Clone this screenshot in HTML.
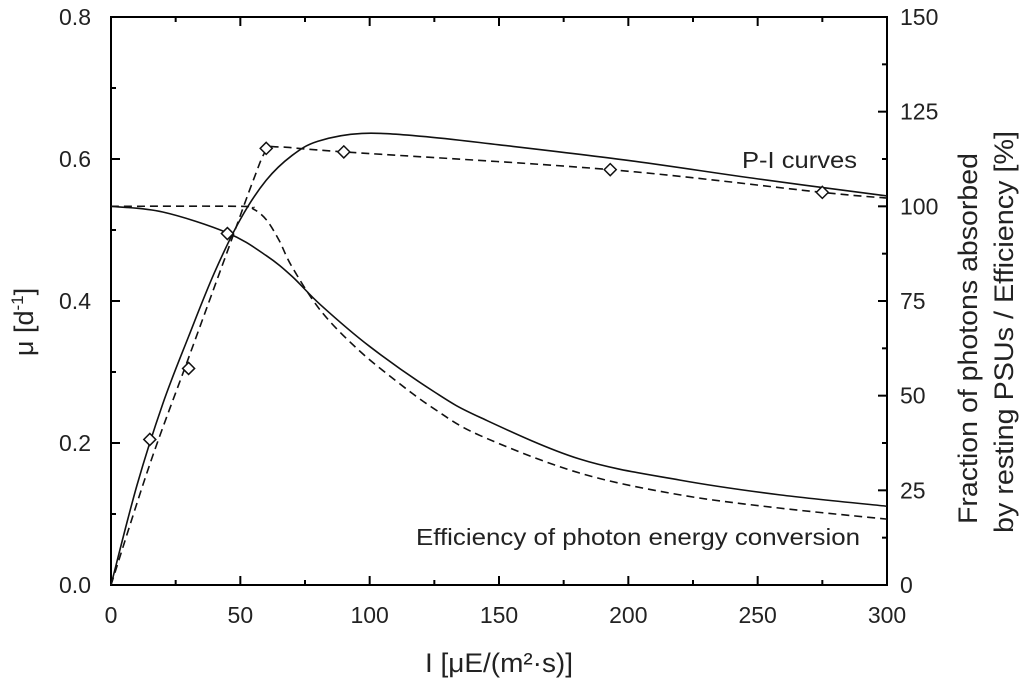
<!DOCTYPE html>
<html><head><meta charset="utf-8"><style>
html,body{margin:0;padding:0;background:#fff;}
svg{display:block;font-family:"Liberation Sans",sans-serif;}
</style></head><body>
<svg id="chart" width="1024" height="683" viewBox="0 0 1024 683" xmlns="http://www.w3.org/2000/svg"></svg>
<script>
const xTicks=[0,50,100,150,200,250,300];
const yLeftTicks=[0.0,0.2,0.4,0.6,0.8];
const yRightTicks=[0,25,50,75,100,125,150];
const piSolidI=[0,10,20,30,40,50,60,70,80,97,120,150,200,250,300];
const piSolidMu=[0,0.14,0.255,0.35,0.44,0.515,0.57,0.605,0.625,0.636,0.632,0.62,0.598,0.572,0.548];
const piDashI=[0,15,30,45,55,60,65,90,193,275,300];
const piDashMu=[0,0.17,0.32,0.47,0.57,0.612,0.617,0.61,0.585,0.553,0.545];
const effSolidI=[0,20,45,60,70,81,100,125,142.6,181,220,258.6,300];
const effSolidPct=[100,98.5,93,87,81.5,74,63,51,44.3,33.3,27.7,23.8,20.8];
const effDashI=[0,50,55,60,65,70,81,95,110,125,142.6,181,220,258.6,300];
const effDashPct=[100,100,99.3,96.5,91,84,72.5,62.5,54,46.5,39.5,29.6,23.8,20.3,17.4];
const ptsI=[15,30,45,60,90,193,275];
const ptsMu=[0.205,0.305,0.495,0.615,0.61,0.585,0.553];

const L=111,R=887,T=17,B=585;
const sx=v=>L+(v/300)*(R-L);
const syL=v=>B-(v/0.8)*(B-T);
const syR=v=>B-(v/150)*(B-T);
const NS="http://www.w3.org/2000/svg";
const svg=document.getElementById('chart');
function mk(tag,attrs,parent){const e=document.createElementNS(NS,tag);for(const k in attrs)e.setAttribute(k,attrs[k]);(parent||svg).appendChild(e);return e;}
function smooth(xs,ys){
  const p=xs.map((x,i)=>[x,ys[i]]);let d=`M${p[0][0]},${p[0][1]}`;
  for(let i=0;i<p.length-1;i++){
    const p0=p[Math.max(0,i-1)],p1=p[i],p2=p[i+1],p3=p[Math.min(p.length-1,i+2)];
    const c1=[p1[0]+(p2[0]-p0[0])/6,p1[1]+(p2[1]-p0[1])/6];
    const c2=[p2[0]-(p3[0]-p1[0])/6,p2[1]-(p3[1]-p1[1])/6];
    d+=` C${c1[0]},${c1[1]} ${c2[0]},${c2[1]} ${p2[0]},${p2[1]}`;
  }
  return d;
}
let fr=mk('rect',{x:L,y:T,width:R-L,height:B-T,fill:'none',stroke:'#000','stroke-width':2});


for(let v=0;v<=300;v+=25){
  const major=v%50===0,len=major?9:5;
  mk('line',{x1:sx(v),x2:sx(v),y1:B,y2:B-len,stroke:'#000','stroke-width':2});
  mk('line',{x1:sx(v),x2:sx(v),y1:T,y2:T+len,stroke:'#000','stroke-width':2});
}
xTicks.forEach(v=>{const t=mk('text',{x:sx(v),y:623,'text-anchor':'middle','font-size':23,fill:'#222'});t.textContent=v;

});
for(let v=0;v<=0.8001;v+=0.1){
  const major=Math.round(v*10)%2===0,len=major?9:5;
  mk('line',{x1:L,x2:L+len,y1:syL(v),y2:syL(v),stroke:'#000','stroke-width':2});
}
yLeftTicks.forEach(v=>{const t=mk('text',{x:L-20,y:syL(v)+8,'text-anchor':'end','font-size':23,fill:'#222'});t.textContent=v.toFixed(1);

});
for(let v=0;v<=150;v+=12.5){
  const major=v%25===0,len=major?9:5;
  mk('line',{x1:R,x2:R-len,y1:syR(v),y2:syR(v),stroke:'#000','stroke-width':2});
}
yRightTicks.forEach(v=>{const t=mk('text',{x:R+13,y:syR(v)+8,'text-anchor':'start','font-size':23,fill:'#222'});t.textContent=v;

});
function curve(xs,ys,fy,dash,name){
  const p=mk('path',{d:smooth(xs.map(sx),ys.map(fy)),fill:'none',stroke:'#111','stroke-width':1.6});
  if(dash)p.setAttribute('stroke-dasharray','8,5');
  
  
}
curve(piSolidI,piSolidMu,syL,false,'pi-curve-model');
curve(piDashI,piDashMu,syL,true,'pi-curve-fit');
curve(effSolidI,effSolidPct,syR,false,'efficiency-curve-model');
curve(effDashI,effDashPct,syR,true,'efficiency-curve-fit');
ptsI.forEach((v,i)=>{const x=sx(v),y=syL(ptsMu[i]);
  const m=mk('polygon',{points:`${x},${y-6} ${x+6},${y} ${x},${y+6} ${x-6},${y}`,fill:'#fff',stroke:'#111','stroke-width':1.5});
  
  });
</script>
<script>
(function(){
const svg=document.getElementById('chart');const NS="http://www.w3.org/2000/svg";
function txt(s,attrs,name){const t=document.createElementNS(NS,'text');for(const k in attrs)t.setAttribute(k,attrs[k]);t.textContent=s;svg.appendChild(t);

return t;}
txt('P-I curves',{x:742,y:168,'font-size':23,fill:'#222',textLength:115,lengthAdjust:'spacingAndGlyphs'},'pi-curves-annotation');
txt('Efficiency of photon energy conversion',{x:416,y:545,'font-size':23,fill:'#222',textLength:444,lengthAdjust:'spacingAndGlyphs'},'efficiency-annotation');
txt('I [μE/(m²·s)]',{x:425,y:672,'font-size':27,fill:'#222',textLength:148,lengthAdjust:'spacingAndGlyphs'},'x-axis-title');
const yl=txt('',{transform:'translate(33,322) rotate(-90)','text-anchor':'middle','font-size':27,fill:'#222'},'y-left-axis-title');
yl.innerHTML='μ [d<tspan dy="-10" font-size="17">-1</tspan><tspan dy="10">]</tspan>';
txt('Fraction of photons absorbed',{transform:'translate(977,524) rotate(-90)','font-size':27,fill:'#222',textLength:371,lengthAdjust:'spacingAndGlyphs'},'y-right-axis-title-line1');
txt('by resting PSUs / Efficiency [%]',{transform:'translate(1013,533) rotate(-90)','font-size':27,fill:'#222',textLength:402,lengthAdjust:'spacingAndGlyphs'},'y-right-axis-title-line2');
})();
</script>
</body></html>
